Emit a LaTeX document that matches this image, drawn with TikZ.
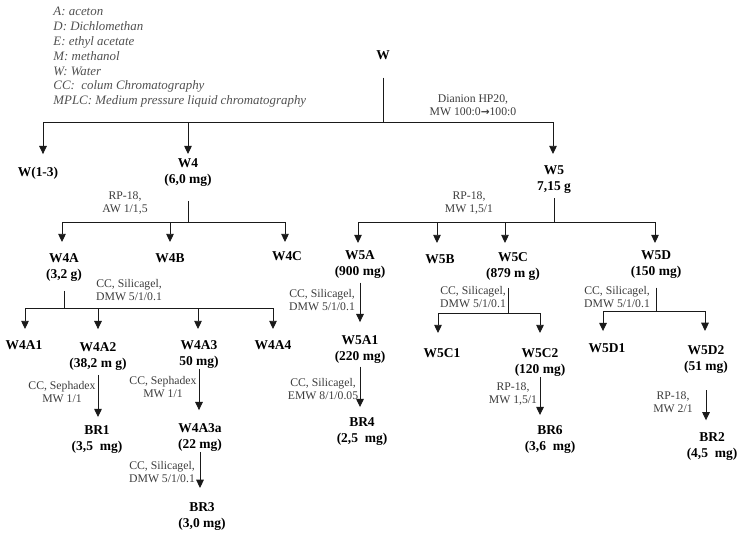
\documentclass[tikz,border=0pt]{standalone}
\usepackage{fontspec}
\setmainfont{Liberation Serif}
\newfontfamily\arrowfont{DejaVu Sans}
\usetikzlibrary{arrows.meta}
\definecolor{linegray}{HTML}{1A1A1A}
\definecolor{labelgray}{HTML}{3C3C3C}
\definecolor{legendgray}{HTML}{505050}

\begin{document}
\begin{tikzpicture}[x=0.03cm, y=0.03cm]
						\useasboundingbox (0,0) rectangle (738,-532);
						\tikzstyle{every node}+=[inner sep=0pt]
						\tikzstyle{frac}=[anchor=north, align=center, font=\fontsize{11.5}{13.6}\selectfont\bfseries]
						\tikzstyle{cond}=[anchor=north, align=center, text=labelgray, font=\fontsize{10}{11}\selectfont]
						\tikzstyle{arr}=[-{Triangle[width=6.5pt,length=7pt]}]
						\tikzstyle{every path}+=[draw=linegray, line width=0.8pt]
						\node [anchor=north west, align=left, text=legendgray, font=\fontsize{11}{12.6}\selectfont\itshape] (legend) at (53,-7) {A: aceton\\D: Dichlomethan\\E: ethyl acetate\\M: methanol\\W: Water\\CC:\ \ colum Chromatography\\MPLC: Medium pressure liquid chromatography};
						\node [frac] (w) at (383,-50) {W};
						\node [frac] (w13) at (38,-167) {W(1-3)};
						\node [frac] (w4) at (188,-158) {W4\\(6,0 mg)};
						\node [frac] (w5) at (554,-165) {W5\\7,15 g};
						\node [frac] (w4a) at (64,-253) {W4A\\(3,2 g)};
						\node [frac] (w4b) at (170,-253) {W4B};
						\node [frac] (w4c) at (287,-251) {W4C};
						\node [frac] (w5a) at (360,-250) {W5A\\(900 mg)};
						\node [frac] (w5b) at (440,-254) {W5B};
						\node [frac] (w5c) at (513,-252) {W5C\\(879 m g)};
						\node [frac] (w5d) at (656,-250) {W5D\\(150 mg)};
						\node [frac] (w4a1) at (24,-340) {W4A1};
						\node [frac] (w4a2) at (98,-342) {W4A2\\(38,2 m g)};
						\node [frac] (w4a3) at (199,-340) {W4A3\\50 mg)};
						\node [frac] (w4a4) at (273,-340) {W4A4};
						\node [frac] (w5a1) at (360,-335) {W5A1\\(220 mg)};
						\node [frac] (w5c1) at (442,-348) {W5C1};
						\node [frac] (w5c2) at (540,-348) {W5C2\\(120 mg)};
						\node [frac] (w5d1) at (607,-343) {W5D1};
						\node [frac] (w5d2) at (706,-345) {W5D2\\(51 mg)};
						\node [frac] (br1) at (97,-425) {BR1\\(3,5\ \ mg)};
						\node [frac] (w4a3a) at (200,-423) {W4A3a\\(22 mg)};
						\node [frac] (br3) at (202,-502) {BR3\\(3,0 mg)};
						\node [frac] (br4) at (362,-417) {BR4\\(2,5\ \ mg)};
						\node [frac] (br6) at (550,-425) {BR6\\(3,6\ \ mg)};
						\node [frac] (br2) at (712,-432) {BR2\\(4,5\ \ mg)};
						\node [cond] (dianion) at (473,-94) {Dianion HP20,\\MW 100:0{\arrowfont\bfseries\fontsize{9}{11}\selectfont →}100:0};
						\node [cond] (rpw4) at (125,-191) {RP-18,\\AW 1/1,5};
						\node [cond] (rpw5) at (469,-191) {RP-18,\\MW 1,5/1};
						\node [cond] (ccw4a) at (129,-279) {CC, Silicagel,\\DMW 5/1/0.1};
						\node [cond] (ccw5a) at (322,-289) {CC, Silicagel,\\DMW 5/1/0.1};
						\node [cond] (ccw5a1) at (323,-378) {CC, Silicagel,\\EMW 8/1/0.05};
						\node [cond] (ccw5c) at (473,-286) {CC, Silicagel,\\DMW 5/1/0.1};
						\node [cond] (ccw5d) at (617,-286) {CC, Silicagel,\\DMW 5/1/0.1};
						\node [cond] (sephw4a2) at (62,-381) {CC, Sephadex\\MW 1/1};
						\node [cond] (sephw4a3) at (163,-376) {CC, Sephadex\\MW 1/1};
						\node [cond] (ccw4a3a) at (162,-461) {CC, Silicagel,\\DMW 5/1/0.1};
						\node [cond] (rpw5c2) at (513,-382) {RP-18,\\MW 1,5/1};
						\node [cond] (rpw5d2) at (673,-391) {RP-18,\\MW 2/1};
						\coordinate (wj) at (383,-122);
						\coordinate (w13j) at (43,-122);
						\coordinate (w4j) at (188,-122);
						\coordinate (w5j) at (553,-122);
						\draw [shorten <=15pt] (w.south) -- (wj);
						\draw (w13j) -- (w5j);
						\draw [arr, shorten >=11pt] (w13j) -- (w13j |- w13.north);
						\draw [arr, shorten >=3.4pt] (w4j) -- (w4j |- w4.north);
						\draw [arr, shorten >=9.4pt] (w5j) -- (w5j |- w5.north);
						\coordinate (w4jb) at (188,-222);
						\coordinate (w4aj) at (62,-222);
						\coordinate (w4bj) at (170,-222);
						\coordinate (w4cj) at (285,-222);
						\draw [shorten <=12pt] (w4.south) -- (w4jb);
						\draw (w4aj) -- (w4cj);
						\draw [arr, shorten >=9.4pt] (w4aj) -- (w4aj |- w4a.north);
						\draw [arr, shorten >=9.4pt] (w4bj) -- (w4bj |- w4b.north);
						\draw [arr, shorten >=7.7pt] (w4cj) -- (w4cj |- w4c.north);
						\coordinate (w5jb) at (554,-222);
						\coordinate (w5aj) at (358,-222);
						\coordinate (w5bj) at (437,-222);
						\coordinate (w5cj) at (505,-222);
						\coordinate (w5dj) at (655,-222);
						\draw [shorten <=4pt] (w5.south) -- (w5jb);
						\draw (w5aj) -- (w5dj);
						\draw [arr, shorten >=6pt] (w5aj) -- (w5aj |- w5a.north);
						\draw [arr, shorten >=9.4pt] (w5bj) -- (w5bj |- w5b.north);
						\draw [arr, shorten >=7.7pt] (w5cj) -- (w5cj |- w5c.north);
						\draw [arr, shorten >=6pt] (w5dj) -- (w5dj |- w5d.north);
						\coordinate (w4ajb) at (64,-308);
						\coordinate (w4a1j) at (25,-308);
						\coordinate (w4a2j) at (98,-308);
						\coordinate (w4a3j) at (198,-308);
						\coordinate (w4a4j) at (273,-308);
						\draw [shorten <=7.7pt] (w4a.south) -- (w4ajb);
						\draw (w4a1j) -- (w4a4j);
						\draw [arr, shorten >=9.4pt] (w4a1j) -- (w4a1j |- w4a1.north);
						\draw [arr, shorten >=11pt] (w4a2j) -- (w4a2j |- w4a2.north);
						\draw [arr, shorten >=9.4pt] (w4a3j) -- (w4a3j |- w4a3.north);
						\draw [arr, shorten >=9.4pt] (w4a4j) -- (w4a4j |- w4a4.north);
						\coordinate (w5cjb) at (508,-313);
						\coordinate (w5c1j) at (438,-313);
						\coordinate (w5c2j) at (540,-313);
						\draw [shorten <=6pt] (w5cjb |- w5c.south) -- (w5cjb);
						\draw (w5c1j) -- (w5c2j);
						\draw [arr, shorten >=12.8pt] (w5c1j) -- (w5c1j |- w5c1.north);
						\draw [arr, shorten >=12.8pt] (w5c2j) -- (w5c2j |- w5c2.north);
						\coordinate (w5djb) at (656,-311);
						\coordinate (w5d1j) at (603,-311);
						\coordinate (w5d2j) at (705,-311);
						\draw [shorten <=7.7pt] (w5d.south) -- (w5djb);
						\draw (w5d1j) -- (w5d2j);
						\draw [arr, shorten >=10.2pt] (w5d1j) -- (w5d1j |- w5d1.north);
						\draw [arr, shorten >=12pt] (w5d2j) -- (w5d2j |- w5d2.north);
						\draw [arr, shorten <=3.4pt, shorten >=11pt] (w5a.south) -- (w5a.south |- w5a1.north);
						\draw [arr, shorten <=2.5pt, shorten >=8.5pt] (w5a1.south) -- (w5a1.south |- br4.north);
						\draw [arr, shorten <=3.4pt, shorten >=6.8pt] (w4a2.south) -- (w4a2.south |- br1.north);
						\draw [arr, shorten >=11pt] (w4a3.south) -- (w4a3.south |- w4a3a.north);
						\draw [arr, shorten >=12pt] (w4a3a.south) -- (w4a3a.south |- br3.north);
						\draw [arr, shorten >=8.5pt] (w5c2.south) -- (w5c2.south |- br6.north);
						\draw [arr, shorten <=14pt, shorten >=10pt] (w5d2.south) -- (w5d2.south |- br2.north);
					\end{tikzpicture}
\end{document}
